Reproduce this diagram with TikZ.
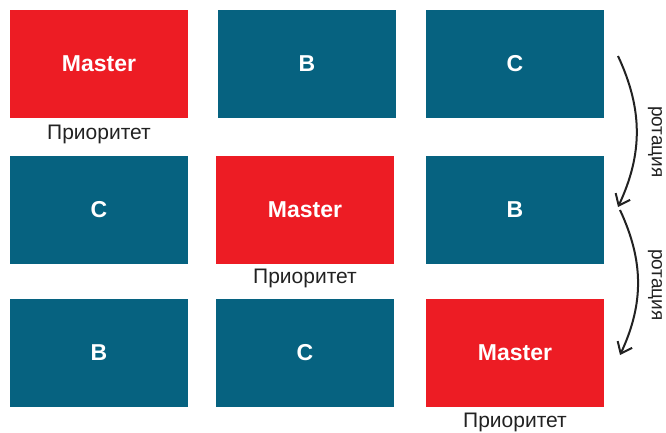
\documentclass[tikz,border=0pt]{standalone}
\usepackage{fontspec}
\setmainfont{Liberation Sans}
\usepackage{xcolor}
\usepackage{tikz}
\usetikzlibrary{arrows.meta,positioning}
\definecolor{masterred}{HTML}{ED1C24}
\definecolor{hostteal}{HTML}{066280}
\definecolor{ink}{HTML}{222222}
\tikzset{
    hostbox/.style={fill=hostteal,draw=none,minimum width=178pt,minimum height=108pt,
      inner sep=0pt,outer sep=0pt,text=white,font=\fontsize{23}{25}\selectfont\bfseries},
    masterbox/.style={hostbox,fill=masterred},
    prio/.style={inner sep=0pt,text=ink,font=\fontsize{21}{23}\selectfont},
    rotlabel/.style={inner sep=0pt,text=ink,rotate=-90,font=\fontsize{19}{21}\selectfont},
    rotarrow/.style={-{Straight Barb[length=10pt,width=16pt,line width=2pt]},draw=ink,
      line width=2pt}
}
\begin{document}
\begin{tikzpicture}[x=1pt,y=-1pt]
  \useasboundingbox (0,0) rectangle (666,432);
  % first round
  \node[masterbox] (m1) at (99,64) {Master};
  \node[hostbox,right=30pt of m1] (b1) {B};
  \node[hostbox,right=30pt of b1] (c1) {C};
  \node[prio,below=7pt of m1] (p1) {Приоритет};

  % second round
  \node[hostbox] (c2) at (99,210) {C};
  \node[masterbox,right=28pt of c2] (m2) {Master};
  \node[hostbox,right=32pt of m2] (b2) {B};
  \node[prio,below=5pt of m2] (p2) {Приоритет};

  % third round
  \node[hostbox] (b3) at (99,353) {B};
  \node[hostbox,right=28pt of b3] (c3) {C};
  \node[masterbox,right=32pt of c3] (m3) {Master};
  \node[prio,below=6pt of m3] (p3) {Приоритет};

  % rotation
  \coordinate (r0) at (618,56);
  \coordinate (r1) at (618,207);
  \coordinate (r2) at (620,210);
  \coordinate (r3) at (620,355);
  \draw[rotarrow] (r0) to[bend left=25] (r1);
  \draw[rotarrow] (r2) to[bend left=25] (r3);
  \node[rotlabel] (rot1) at (655,142) {ротация};
  \node[rotlabel] (rot2) at (655,285) {ротация};
\end{tikzpicture}
\end{document}
